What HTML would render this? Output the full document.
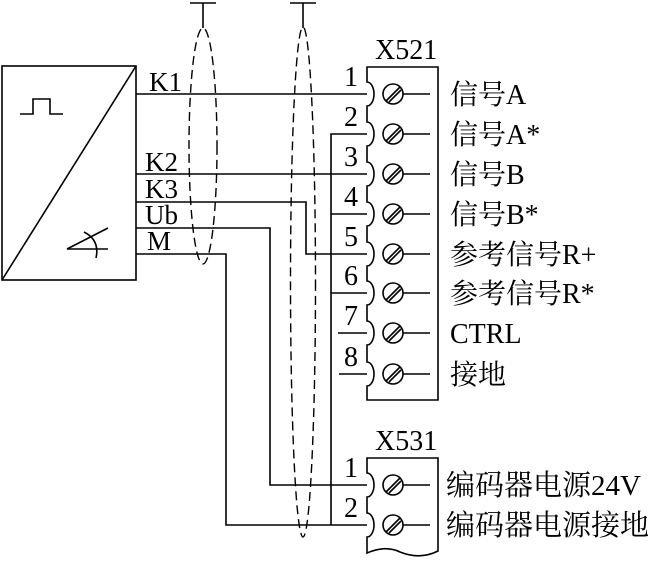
<!DOCTYPE html>
<html><head><meta charset="utf-8"><style>
html,body{margin:0;padding:0;background:#fff;}
svg{display:block;}
text{font-family:"Liberation Serif","Noto Serif CJK SC",serif;fill:#000;}
</style></head><body>
<svg width="654" height="561" viewBox="0 0 654 561" xmlns="http://www.w3.org/2000/svg">
<g stroke="#000" stroke-width="1.6" fill="none">
<rect x="2" y="66" width="134" height="214"/>
<line x1="2" y1="280" x2="136" y2="66"/>
<polyline points="20,114 33,114 33,99 50,99 50,114 63,114"/>
<line x1="67" y1="249" x2="108" y2="249"/>
<line x1="67" y1="249" x2="108" y2="228"/>
<path d="M84,232 Q100,240 96,258"/>
<line x1="136" y1="94" x2="367" y2="94"/>
<line x1="136" y1="174" x2="367" y2="174"/>
<polyline points="136,202 306,202 306,254 367,254"/>
<polyline points="136,228 270,228 270,485 367,485"/>
<polyline points="136,254 226,254 226,525 367,525"/>
<polyline points="367,134 331,134 331,525"/>
<line x1="331" y1="214" x2="367" y2="214"/>
<line x1="331" y1="293" x2="367" y2="293"/>
<line x1="338" y1="333" x2="367" y2="333"/>
<line x1="339" y1="374" x2="367" y2="374"/>
<g stroke-dasharray="9,5" stroke-width="1.4">
<ellipse cx="203" cy="146" rx="14" ry="118"/>
<ellipse cx="303" cy="282" rx="12.5" ry="255"/>
</g>
<line x1="203" y1="3" x2="203" y2="28"/>
<line x1="190" y1="3" x2="216" y2="3"/>
<line x1="303" y1="3" x2="303" y2="28"/>
<line x1="290" y1="3" x2="316" y2="3"/>
<path d="M438,67 H367 V82 A7,12 0 0 1 367,106 V122 A7,12 0 0 1 367,146 V162 A7,12 0 0 1 367,186 V202 A7,12 0 0 1 367,226 V242 A7,12 0 0 1 367,266 V281 A7,12 0 0 1 367,305 V321 A7,12 0 0 1 367,345 V362 A7,12 0 0 1 367,386 V400 H438 Z"/>
<path d="M438,458 H367 V473 A7,12 0 0 1 367,497 V513 A7,12 0 0 1 367,537 V553 Q385,545 400,552 Q420,560 438,551 Z"/>
</g>
<g stroke="#000" stroke-width="1.6" fill="none">
<g id="s">
<circle cx="393" cy="94" r="10"/>
<line x1="386" y1="101" x2="400" y2="87"/><line x1="389" y1="102" x2="401" y2="90"/>
<line x1="403" y1="94" x2="430" y2="94"/>
</g>
<use href="#s" y="40"/><use href="#s" y="80"/><use href="#s" y="120"/>
<use href="#s" y="160"/><use href="#s" y="199"/><use href="#s" y="239"/><use href="#s" y="280"/>
<use href="#s" y="391"/><use href="#s" y="431"/>
</g>
<g font-size="27">
<text x="149" y="91">K1</text>
<text x="145" y="171">K2</text>
<text x="145" y="198">K3</text>
<text x="145" y="224">Ub</text>
<text x="147" y="250">M</text>
<text x="375" y="59" font-size="28">X521</text>
<text x="375" y="450" font-size="28">X531</text>
<g text-anchor="middle" font-size="28">
<text x="351" y="86">1</text><text x="351" y="126">2</text><text x="351" y="166">3</text>
<text x="351" y="206">4</text><text x="351" y="246">5</text><text x="351" y="285">6</text>
<text x="351" y="325">7</text><text x="351" y="366">8</text>
<text x="351" y="477">1</text><text x="351" y="517">2</text>
</g>
<g font-size="28">
<text x="450" y="104">信号A</text>
<text x="450" y="144">信号A*</text>
<text x="450" y="184">信号B</text>
<text x="450" y="224">信号B*</text>
<text x="450" y="264">参考信号R+</text>
<text x="450" y="303">参考信号R*</text>
<text x="450" y="343">CTRL</text>
<text x="450" y="384">接地</text>
</g>
<g font-size="29">
<text x="446" y="495">编码器电源24V</text>
<text x="446" y="535">编码器电源接地</text>
</g>
</g>
</svg>
</body></html>
